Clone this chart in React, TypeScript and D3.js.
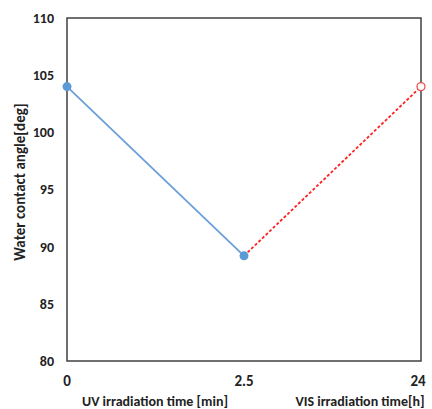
import React from 'react';
import * as d3 from 'd3';

// categories on the x axis and measured contact angles
const xLabels = ['0', '2.5', '24'];
const uvSeries = [104, 89.2];
const visSeries = [89.2, 104];
const yTicks = [80, 85, 90, 95, 100, 105, 110];

const W = 432;
const H = 409;
const margin = { top: 18, right: 11, bottom: 48, left: 67 };
const font = 'Calibri, Carlito, "Open Sans", "Liberation Sans", sans-serif';

export default function App() {
  const innerW = W - margin.left - margin.right;
  const innerH = H - margin.top - margin.bottom;

  const x = d3.scalePoint<string>().domain(xLabels).range([0, innerW]).padding(0);
  const y = d3.scaleLinear().domain([80, 110]).range([innerH, 0]);

  const line = d3.line<[string, number]>()
    .x(d => x(d[0]) as number)
    .y(d => y(d[1]));

  const uvPts: [string, number][] = uvSeries.map((v, i) => [xLabels[i], v]);
  const visPts: [string, number][] = visSeries.map((v, i) => [xLabels[i + 1], v]);

  return (
    <svg width={W} height={H} style={{ position: 'absolute', left: 0, top: 0, background: '#fff' }}>
      <g transform={`translate(${margin.left},${margin.top})`}>
        <rect x={0} y={0} width={innerW} height={innerH} fill="none" stroke="#404040" strokeWidth={1.5} />

        {yTicks.map(t => (
          <text key={t} x={-13} y={y(t)} dy="0.35em" textAnchor="end"
            fontFamily={font} fontWeight="bold" fontSize={14} fill="#222">{t}</text>
        ))}

        {xLabels.map((l, i) => (
          <text key={l} x={(x(l) as number) + (i === xLabels.length - 1 ? -3 : 0)} y={innerH + 25}
            textAnchor="middle" fontFamily={font} fontWeight="bold" fontSize={15} fill="#222">{l}</text>
        ))}

        <path d={line(uvPts) || ''} fill="none" stroke="#6A9FD8" strokeWidth={1.8} />
        <path d={line(visPts) || ''} fill="none" stroke="#FF2020" strokeWidth={1.8} strokeDasharray="3,2" />

        {uvPts.map((p, i) => (
          <circle key={i} cx={x(p[0]) as number} cy={y(p[1])} r={4.5} fill="#5B9BD5" />
        ))}
        <circle cx={x(visPts[1][0]) as number} cy={y(visPts[1][1])} r={4} fill="#fff" stroke="#F05050" strokeWidth={1.3} />
      </g>

      <text transform={`translate(25,${182}) rotate(-90)`} textAnchor="middle"
        fontFamily={font} fontWeight="bold" fontSize={15} fill="#222">Water contact angle[deg]</text>
      <text x={155} y={406} textAnchor="middle" fontFamily={font} fontWeight="bold" fontSize={14} fill="#222">
        UV irradiation time [min]
      </text>
      <text x={360} y={406} textAnchor="middle" fontFamily={font} fontWeight="bold" fontSize={14} fill="#222">
        VIS irradiation time[h]
      </text>
    </svg>
  );
}
